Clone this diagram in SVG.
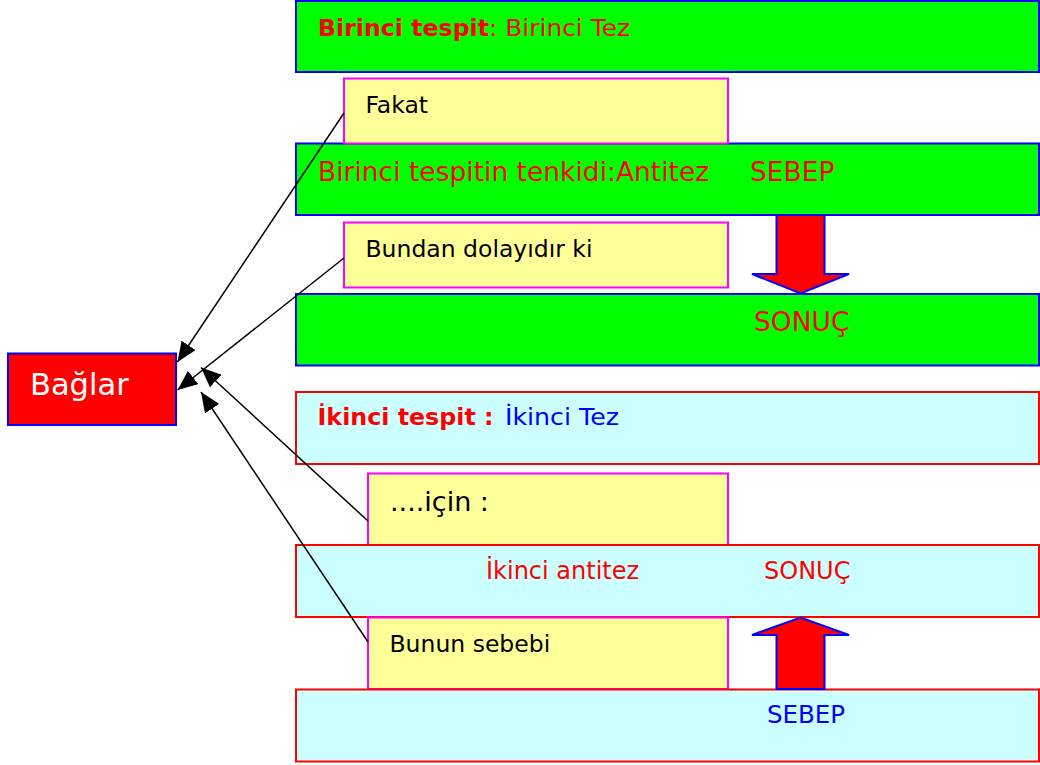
<svg xmlns="http://www.w3.org/2000/svg" width="1040" height="765" viewBox="0 0 1040 765">
<defs>
<style>
.g{fill:#00FF00;stroke:#0000FF;stroke-width:2}
.c{fill:#CCFFFF;stroke:#FF0000;stroke-width:2}
.y{fill:#FFFF99;stroke:#FF00FF;stroke-width:2}
.ar{fill:#FF0000;stroke:#0000FF;stroke-width:2;stroke-linejoin:miter}
text{font-family:"DejaVu Sans",Verdana,sans-serif}
.t{font-size:23.5px}
.big{font-size:26.5px}
.red{fill:#FF0000}
.blu{fill:#0000FF}
.blk{fill:#000000}
.conn{stroke:#000;stroke-width:1.5;fill:none;marker-end:url(#ah)}
</style>
<marker id="ah" markerUnits="userSpaceOnUse" markerWidth="20" markerHeight="17" refX="20" refY="8.5" orient="auto">
<path d="M0,0 L20,8.5 L0,17 z" fill="#000"/>
</marker>
</defs>
<rect width="1040" height="765" fill="#fff"/>

<g id="box1"><rect class="g" x="296" y="1" width="743" height="71"/>
<text x="318" y="35.5" class="t red" font-weight="bold" textLength="171" lengthAdjust="spacingAndGlyphs">Birinci tespit</text>
<text x="489" y="35.5" class="t red" textLength="141" lengthAdjust="spacingAndGlyphs">: Birinci Tez</text></g>

<g id="box2"><rect class="g" x="296" y="143.5" width="743" height="71.5"/>
<text x="318" y="181" class="big red">Birinci tespitin tenkidi:Antitez<tspan x="750">SEBEP</tspan></text></g>

<g id="fakat"><rect class="y" x="344" y="78.5" width="384" height="65"/>
<text x="365.5" y="112.5" class="t blk">Fakat</text></g>

<g id="bundan"><rect class="y" x="344" y="222.5" width="384" height="65"/>
<text x="365.5" y="257" class="t blk">Bundan dolayıdır ki</text></g>

<g id="box3"><rect class="g" x="296" y="294" width="743" height="71.5"/>
<text x="754" y="331" class="big red">SONUÇ</text></g>

<g id="arrowDown"><path class="ar" d="M776.5,215 L824.5,215 L824.5,274 L849,274 L800.5,293.5 L752,274 L776.5,274 z"/></g>

<g id="baglar"><rect x="8" y="353.5" width="168" height="71.5" fill="#FF0000" stroke="#0000FF" stroke-width="2"/>
<text x="30" y="395" font-size="30.5" fill="#fff">Bağlar</text></g>

<g id="box4"><rect class="c" x="296" y="392" width="743" height="72"/>
<text x="317.5" y="424.5" font-size="22.5" class="red" font-weight="bold" textLength="176" lengthAdjust="spacingAndGlyphs">İkinci tespit :</text>
<text x="505" y="424.5" font-size="22.5" class="blu" textLength="114" lengthAdjust="spacingAndGlyphs">İkinci Tez</text></g>

<g id="icin"><rect class="y" x="368" y="473.5" width="360" height="72"/>
<text x="390" y="511" font-size="27" class="blk">....için :</text></g>

<g id="box5"><rect class="c" x="296" y="545" width="743" height="72"/>
<text x="486" y="579" font-size="24" class="red">İkinci antitez<tspan x="764">SONUÇ</tspan></text></g>

<g id="bunun"><rect class="y" x="368" y="617.5" width="360" height="71.5"/>
<text x="389.5" y="651.5" class="t blk">Bunun sebebi</text></g>

<g id="box6"><rect class="c" x="296" y="689.5" width="743" height="72"/>
<text x="767" y="723.3" font-size="24.5" class="blu">SEBEP</text></g>

<g id="arrowUp"><path class="ar" d="M776.5,689 L824.5,689 L824.5,635 L849,635 L800.5,617.5 L752,635 L776.5,635 z"/></g>

<g id="connectors">
<line class="conn" x1="344" y1="113" x2="177.5" y2="362"/>
<line class="conn" x1="344" y1="258" x2="177.5" y2="390"/>
<line class="conn" x1="368" y1="521" x2="201" y2="367.5"/>
<line class="conn" x1="368" y1="642" x2="201" y2="392"/>
</g>
</svg>
